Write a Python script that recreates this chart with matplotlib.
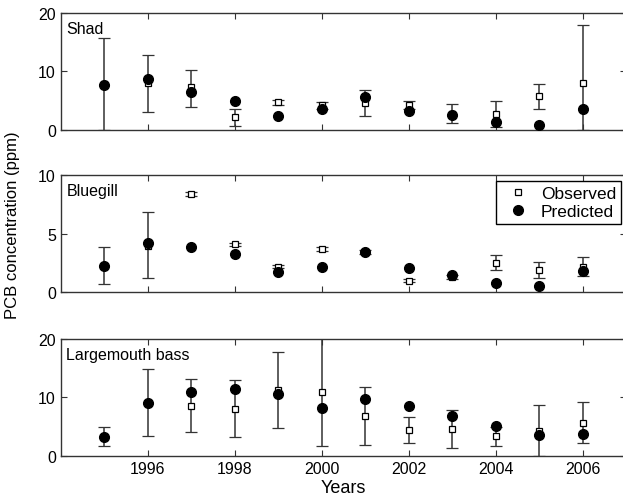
import numpy as np
import matplotlib.pyplot as plt
from matplotlib.lines import Line2D

plt.rcParams['font.family'] = ['Liberation Sans', 'DejaVu Sans']

years = np.arange(1995, 2007)

# Shad
shad_obs = [7.8, 8.0, 7.3, 2.2, 4.7, 4.2, 4.6, 4.3, 2.8, 2.7, 5.8, 8.0]
shad_hi = [15.7, 12.8, 10.2, 3.6, 5.2, 4.85, 6.9, 5.0, 4.4, 4.9, 7.8, 17.9]
shad_lo = [0.0, 3.1, 4.0, 0.7, 4.3, 3.6, 2.45, 3.6, 1.15, 0.45, 3.6, 0.0]
shad_pred = [7.7, 8.7, 6.5, 4.9, 2.45, 3.6, 5.6, 3.25, 2.55, 1.3, 0.85, 3.6]

# Bluegill
blue_obs = [2.25, 3.95, 8.4, 4.1, 2.2, 3.7, 3.45, 1.0, 1.3, 2.5, 1.9, 2.2]
blue_hi = [3.9, 6.85, 8.55, 4.25, 2.35, 3.85, 3.6, 1.15, 1.45, 3.15, 2.6, 3.05]
blue_lo = [0.7, 1.2, 8.25, 3.95, 2.05, 3.55, 3.3, 0.85, 1.15, 1.9, 1.2, 1.4]
blue_pred = [2.25, 4.2, 3.9, 3.25, 1.7, 2.15, 3.45, 2.1, 1.5, 0.8, 0.55, 1.85]

# Largemouth bass
bass_obs = [3.3, 9.0, 8.6, 8.05, 11.2, 11.0, 6.9, 4.5, 4.65, 3.4, 4.25, 5.7]
bass_hi = [4.9, 14.8, 13.1, 12.9, 17.7, 21.5, 11.85, 6.7, 7.9, 4.9, 8.7, 9.2]
bass_lo = [1.75, 3.45, 4.15, 3.2, 4.8, 1.65, 1.95, 2.3, 1.35, 1.7, 0.0, 2.2]
bass_pred = [3.3, 9.05, 11.0, 11.4, 10.65, 8.2, 9.7, 8.55, 6.8, 5.1, 3.55, 3.7]

panels = [
    ('Shad', shad_obs, shad_lo, shad_hi, shad_pred, 20, [0, 10, 20]),
    ('Bluegill', blue_obs, blue_lo, blue_hi, blue_pred, 10, [0, 5, 10]),
    ('Largemouth bass', bass_obs, bass_lo, bass_hi, bass_pred, 20, [0, 10, 20]),
]

fig = plt.figure(figsize=(6.23, 5.02), dpi=100)
bottoms = [0.739, 0.4157, 0.0896]
left, width, height = 0.0974, 0.908, 0.2335

for i, (name, obs, lo, hi, pred, ymax, yt) in enumerate(panels):
    ax = fig.add_axes([left, bottoms[i], width, height])
    obs = np.array(obs)
    err = [obs - np.array(lo), np.array(hi) - obs]
    ax.errorbar(years, obs, yerr=err, fmt='s', ms=4.5, mfc='white', mec='black',
                mew=0.9, ecolor='#333333', elinewidth=1.1, capsize=4.5,
                capthick=1.1, zorder=3)
    ax.plot(years, pred, 'o', color='black', ms=7, zorder=4)
    ax.set_xlim(1994, 2007)
    ax.set_ylim(0, ymax)
    ax.set_yticks(yt)
    ax.set_xticks(np.arange(1996, 2007, 2))
    ax.tick_params(direction='in', top=True, right=True, length=4,
                   labelsize=11.5, color='#333333')
    for s in ax.spines.values():
        s.set_color('#333333')
        s.set_linewidth(1.0)
    if i < 2:
        ax.set_xticklabels([])
    ax.text(0.01, 0.87, name, transform=ax.transAxes, fontsize=11.5,
            ha='left', va='center')
    if i == 1:
        handles = [
            Line2D([], [], ls='none', marker='s', ms=4.5, mfc='white', mec='black', mew=0.9),
            Line2D([], [], ls='none', marker='o', ms=7, color='black'),
        ]
        ax.legend(handles, ['Observed', 'Predicted'], loc='upper right',
                  bbox_to_anchor=(0.991, 0.95), fontsize=12.5,
                  frameon=True, fancybox=False, edgecolor='black', framealpha=1,
                  handletextpad=0.3, borderpad=0.3, labelspacing=0.15,
                  handlelength=2.0, borderaxespad=0)
    if i == 2:
        ax.set_xlabel('Years', fontsize=13, labelpad=2)

fig.text(0.02, 0.552, 'PCB concentration (ppm)', rotation=90, fontsize=12,
         ha='center', va='center')

fig.savefig('out.png', dpi=100)
